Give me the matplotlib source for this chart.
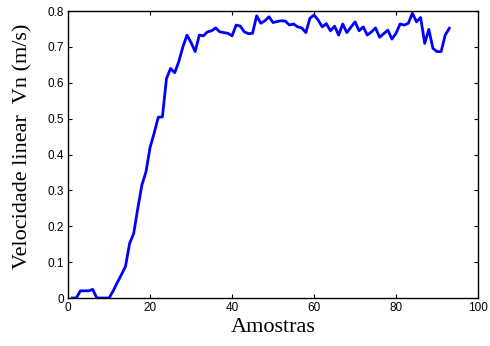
import numpy as np
import matplotlib.pyplot as plt

# velocidade linear por amostra
amostras = np.arange(1, 94)
vn = [0.0, 0.0, 0.02, 0.02, 0.02, 0.024, 0.0, 0.0, 0.0, 0.0,
      0.02, 0.043, 0.065, 0.088, 0.152, 0.18, 0.25, 0.315, 0.352, 0.42,
      0.46, 0.504, 0.505, 0.612, 0.64, 0.628, 0.659, 0.70, 0.733, 0.712,
      0.687, 0.733, 0.731, 0.742, 0.745, 0.753, 0.742, 0.74, 0.738, 0.731,
      0.761, 0.758, 0.742, 0.737, 0.738, 0.787, 0.766, 0.773, 0.784, 0.768,
      0.771, 0.773, 0.772, 0.761, 0.764, 0.756, 0.753, 0.74, 0.78, 0.789,
      0.775, 0.756, 0.765, 0.745, 0.758, 0.733, 0.764, 0.74, 0.755, 0.77,
      0.745, 0.756, 0.733, 0.742, 0.753, 0.727, 0.737, 0.747, 0.722, 0.738,
      0.764, 0.761, 0.766, 0.794, 0.77, 0.782, 0.71, 0.749, 0.696, 0.687,
      0.687, 0.733, 0.752]

xticks = [0, 20, 40, 60, 80, 100]
yticks = [0, 0.1, 0.2, 0.3, 0.4, 0.5, 0.6, 0.7, 0.8]

fig = plt.figure(figsize=(4.9, 3.46), dpi=100)
ax = fig.add_axes([0.139, 0.1387, 0.8365, 0.8293])
ax.plot(amostras, vn, color=(0, 0, 1), lw=2)

ax.set_xlim(0, 100)
ax.set_ylim(0, 0.8)
ax.set_xticks(xticks)
ax.set_yticks(yticks)
ax.set_xticklabels([str(t) for t in xticks], fontsize=8.5, family='Liberation Sans')
ax.set_yticklabels(['0', '0.1', '0.2', '0.3', '0.4', '0.5', '0.6', '0.7', '0.8'],
                   fontsize=8.5, family='Liberation Sans')
ax.tick_params(direction='in', top=True, right=True, length=3, width=0.8, pad=3)
for s in ax.spines.values():
    s.set_linewidth(1)

ax.set_xlabel('Amostras', family='Liberation Serif', fontsize=16, labelpad=3)
ax.set_ylabel('Velocidade linear  Vn (m/s)', family='Liberation Serif', fontsize=16)
ax.yaxis.set_label_coords(-0.088, 0.528)

fig.savefig('out.png', dpi=100)
